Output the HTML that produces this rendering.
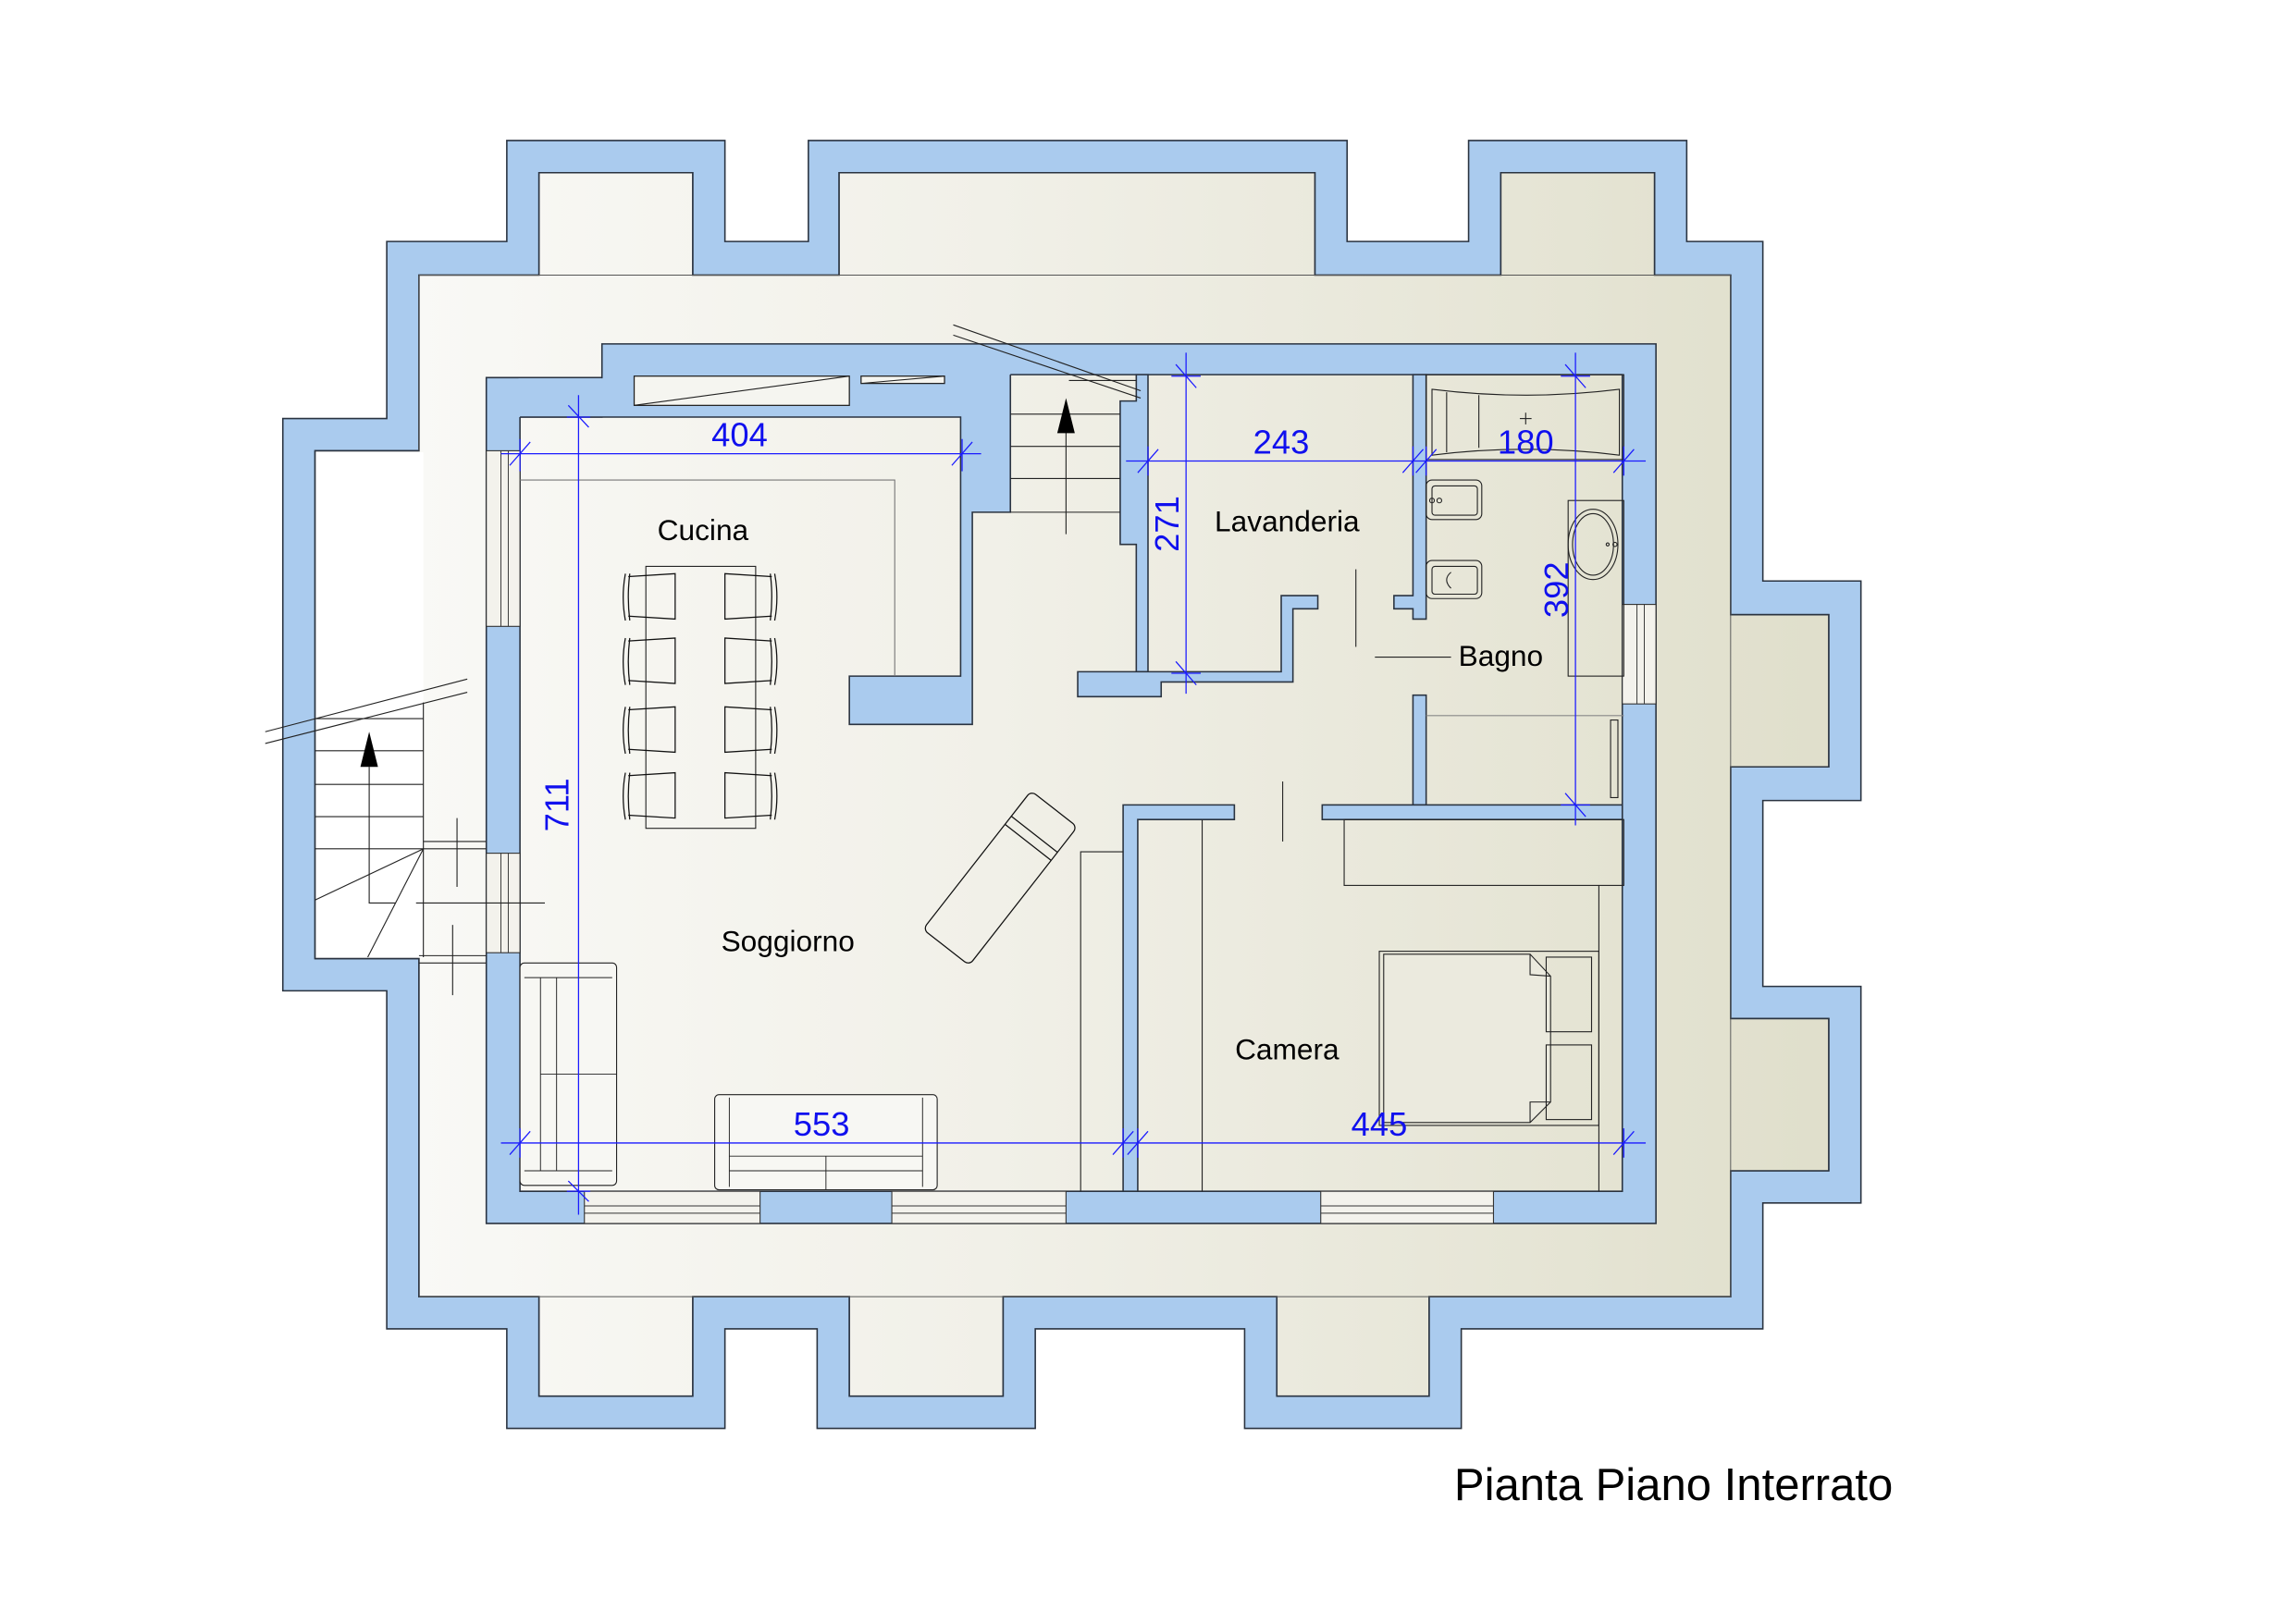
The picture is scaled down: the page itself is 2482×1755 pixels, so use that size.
<!DOCTYPE html>
<html><head><meta charset="utf-8"><style>
html,body{margin:0;padding:0;background:#fff;}
svg{display:block;}
text{font-family:"Liberation Sans",Arial,sans-serif;}
</style></head><body>
<svg width="2482" height="1755" viewBox="0 0 1568 1109" xmlns="http://www.w3.org/2000/svg">
<defs>
<linearGradient id="bg" x1="193" y1="0" x2="1271" y2="0" gradientUnits="userSpaceOnUse">
<stop offset="0" stop-color="#fbfbf9"/><stop offset="0.45" stop-color="#f1f0e8"/><stop offset="1" stop-color="#dfdeca"/>
</linearGradient>
</defs>
<rect width="1568" height="1109" fill="#fff"/>
<path fill-rule="evenodd" fill="#aacbee" stroke="#2a3340" stroke-width="1"
d="M346,96 L495,96 L495,165 L552,165 L552,96 L920,96 L920,165 L1003,165 L1003,96 L1152,96 L1152,165 L1204,165 L1204,397 L1271,397 L1271,547 L1204,547 L1204,674 L1271,674 L1271,822 L1204,822 L1204,908 L998,908 L998,976 L850,976 L850,908 L707,908 L707,976 L558,976 L558,908 L495,908 L495,976 L346,976 L346,908 L264,908 L264,677 L193,677 L193,286 L264,286 L264,165 L346,165 Z
M368,118 L473,118 L473,188 L573,188 L573,118 L898,118 L898,188 L1025,188 L1025,118 L1130,118 L1130,188 L1182,188 L1182,420 L1249,420 L1249,524 L1182,524 L1182,696 L1249,696 L1249,800 L1182,800 L1182,886 L976,886 L976,954 L872,954 L872,886 L685,886 L685,954 L580,954 L580,886 L473,886 L473,954 L368,954 L368,886 L286,886 L286,655 L215,655 L215,308 L286,308 L286,188 L368,188 Z"/>
<path fill="url(#bg)" stroke="#2a3340" stroke-width="1"
d="M368,118 L473,118 L473,188 L573,188 L573,118 L898,118 L898,188 L1025,188 L1025,118 L1130,118 L1130,188 L1182,188 L1182,420 L1249,420 L1249,524 L1182,524 L1182,696 L1249,696 L1249,800 L1182,800 L1182,886 L976,886 L976,954 L872,954 L872,886 L685,886 L685,954 L580,954 L580,886 L473,886 L473,954 L368,954 L368,886 L286,886 L286,655 L215,655 L215,308 L286,308 L286,188 L368,188 Z"/>
<g stroke="#555" stroke-width="0.6" fill="none">
<line x1="286" y1="188" x2="1182" y2="188"/><line x1="286" y1="886" x2="1182" y2="886"/>
<line x1="1182" y1="188" x2="1182" y2="886"/><line x1="286" y1="188" x2="286" y2="308"/>
</g>
<rect x="216" y="309" width="73" height="345" fill="#fff"/>
<path fill-rule="evenodd" fill="#aacbee" stroke="#2a3340" stroke-width="1"
d="M332,258 L411,258 L411,235 L1131,235 L1131,836 L332,836 Z M355,285 L411,285 L411,256 L1108,256 L1108,814 L355,814 Z"/>
<path fill="#aacbee" stroke="none" d="M354,258.5 L411.5,258.5 L411.5,255 L690,255 L690,350 L664,350 L664,495 L580,495 L580,462 L656,462 L656,285 L354,285 Z"/>
<polyline fill="none" stroke="#2a3340" stroke-width="1" points="355,285 656,285 656,462 580,462 580,495 664,495 664,350 690,350 690,256"/>
<g fill="#aacbee" stroke="#2a3340" stroke-width="1">
<path d="M765,274 L776,274 L776,256 L784,256 L784,459 L776,459 L776,372 L765,372 Z"/>
<path d="M736,459 L875,459 L875,407 L900,407 L900,416 L883,416 L883,466 L793,466 L793,476 L736,476 Z"/>
<path d="M965,256 L974,256 L974,423 L965,423 L965,416 L952,416 L952,407 L965,407 Z"/>
<rect x="965" y="475" width="9" height="75"/>
<path d="M767,814 L767,550 L843,550 L843,560 L777,560 L777,814 Z"/>
<rect x="903" y="550" width="205" height="10"/>
</g>
<g fill="#f3f2ec" stroke="#333" stroke-width="0.7">
<rect x="332" y="308" width="23" height="120"/>
<rect x="332" y="583" width="23" height="68"/>
<rect x="399" y="814" width="120" height="22"/>
<rect x="609" y="814" width="119" height="22"/>
<rect x="902" y="814" width="118" height="22"/>
<rect x="1108" y="413" width="23" height="68"/>
</g>
<g stroke="#333" stroke-width="0.6">
<line x1="342" y1="308" x2="342" y2="428"/><line x1="347" y1="308" x2="347" y2="428"/>
<line x1="342" y1="583" x2="342" y2="651"/><line x1="347" y1="583" x2="347" y2="651"/>
<line x1="399" y1="824" x2="519" y2="824"/><line x1="399" y1="829" x2="519" y2="829"/>
<line x1="609" y1="824" x2="728" y2="824"/><line x1="609" y1="829" x2="728" y2="829"/>
<line x1="902" y1="824" x2="1020" y2="824"/><line x1="902" y1="829" x2="1020" y2="829"/>
<line x1="1118" y1="413" x2="1118" y2="481"/><line x1="1123" y1="413" x2="1123" y2="481"/>
</g>
<g fill="#f5f5f0" stroke="#222" stroke-width="0.8">
<rect x="433" y="257" width="147" height="20"/>
<rect x="588" y="257" width="57" height="5"/>
</g>
<g stroke="#222" stroke-width="0.7" fill="none">
<line x1="433" y1="277" x2="580" y2="257"/><line x1="588" y1="262" x2="645" y2="257"/>
<polyline points="355,328 611,328 611,462" stroke="#777"/>
<rect x="441" y="387" width="75" height="179"/>
</g>
<g stroke="#111" stroke-width="0.8" fill="none">
<g id="chL"><path d="M429,394 L461,392 L461,423 L429,421"/><path d="M427,392 Q424,408 427,424 M430,392 Q428,408 430,424"/></g>
<use href="#chL" y="44"/><use href="#chL" y="91"/><use href="#chL" y="136"/>
<g id="chR"><path d="M527,394 L495,392 L495,423 L527,421"/><path d="M529,392 Q532,408 529,424 M526,392 Q528,408 526,424"/></g>
<use href="#chR" y="44"/><use href="#chR" y="91"/><use href="#chR" y="136"/>
</g>
<g stroke="#222" stroke-width="0.7" fill="none">
<line x1="651" y1="222" x2="779" y2="267"/><line x1="651" y1="229" x2="779" y2="272"/>
<line x1="690" y1="283" x2="765" y2="283"/><line x1="690" y1="305" x2="765" y2="305"/>
<line x1="690" y1="327" x2="765" y2="327"/><line x1="730" y1="260" x2="776" y2="260"/>
<line x1="690" y1="350" x2="765" y2="350"/>
<line x1="728" y1="292" x2="728" y2="365"/>
</g>
<polygon points="728,272 722,296 734,296" fill="#000"/>
<g stroke="#222" stroke-width="0.7" fill="none">
<line x1="181" y1="500" x2="319" y2="464"/><line x1="181" y1="508" x2="319" y2="473"/>
<line x1="215" y1="491" x2="289" y2="491"/>
<line x1="215" y1="513" x2="289" y2="513"/><line x1="215" y1="536" x2="289" y2="536"/>
<line x1="215" y1="558" x2="289" y2="558"/><line x1="215" y1="580" x2="289" y2="580"/>
<line x1="289" y1="480" x2="289" y2="654"/>
<line x1="289" y1="580" x2="215" y2="615"/><line x1="289" y1="580" x2="251" y2="654"/>
<polyline points="252,524 252,617 270,617"/><line x1="284" y1="617" x2="372" y2="617"/>
<line x1="289" y1="575" x2="332" y2="575"/><line x1="289" y1="580" x2="332" y2="580"/>
<line x1="286" y1="653" x2="332" y2="653"/><line x1="286" y1="658" x2="332" y2="658"/>
<line x1="312" y1="559" x2="312" y2="606"/><line x1="309" y1="632" x2="309" y2="680"/>
</g>
<polygon points="252,500 246,524 258,524" fill="#000"/>
<g stroke="#222" stroke-width="0.7" fill="#f7f7f3">
<rect x="355" y="658" width="66" height="152" rx="3"/>
<rect x="488" y="748" width="152" height="65" rx="3"/>
</g>
<g stroke="#222" stroke-width="0.6" fill="none">
<line x1="358" y1="668" x2="418" y2="668"/><line x1="358" y1="800" x2="418" y2="800"/>
<line x1="369" y1="668" x2="369" y2="800"/><line x1="380" y1="668" x2="380" y2="800"/>
<line x1="369" y1="734" x2="421" y2="734"/>
<line x1="498" y1="750" x2="498" y2="811"/><line x1="630" y1="750" x2="630" y2="811"/>
<line x1="498" y1="790" x2="630" y2="790"/><line x1="498" y1="800" x2="630" y2="800"/>
<line x1="564" y1="790" x2="564" y2="813"/>
</g>
<g transform="translate(683,600) rotate(38)" stroke="#111" stroke-width="0.8" fill="none">
<rect x="-20" y="-60" width="40" height="120" rx="4"/>
<line x1="-20" y1="-38" x2="20" y2="-38"/><line x1="-20" y1="-31" x2="20" y2="-31"/>
</g>
<g stroke="#222" stroke-width="0.7" fill="none">
<line x1="926" y1="389" x2="926" y2="442"/>
<line x1="939" y1="449" x2="991" y2="449"/>
<line x1="876" y1="534" x2="876" y2="575"/>
</g>
<g stroke="#222" stroke-width="0.7" fill="none">
<rect x="974" y="256" width="135" height="58"/>
<path d="M978,266 Q1042,274 1106,266 L1106,311 Q1042,303 978,311 Z"/>
<line x1="988" y1="268" x2="988" y2="309"/><line x1="1010" y1="270" x2="1010" y2="306"/>
<line x1="1038" y1="286" x2="1046" y2="286"/><line x1="1042" y1="282" x2="1042" y2="290"/>
<rect x="974" y="328" width="38" height="27" rx="4"/><rect x="978" y="332" width="31" height="20" rx="2"/>
<circle cx="978" cy="342" r="1.6"/><circle cx="983" cy="342" r="1.6"/>
<rect x="974" y="383" width="38" height="26" rx="4"/><rect x="978" y="387" width="31" height="19" rx="2"/>
<path d="M991,391 Q985,396 991,402"/>
<rect x="1071" y="342" width="38" height="120"/>
<ellipse cx="1088" cy="372" rx="17" ry="24"/><ellipse cx="1088" cy="372" rx="14" ry="21"/>
<circle cx="1098" cy="372" r="1"/><circle cx="1103" cy="372" r="1.4"/>
<line x1="974" y1="489" x2="1109" y2="489" stroke="#888"/>
<rect x="1100" y="492" width="5" height="53"/>
</g>
<g stroke="#222" stroke-width="0.7" fill="none">
<line x1="821" y1="560" x2="821" y2="814"/>
<polyline points="738,814 738,582 767,582"/>
<rect x="918" y="560" width="191" height="45"/>
<line x1="1092" y1="605" x2="1092" y2="814"/>
<rect x="942" y="650" width="150" height="119"/>
<path d="M945,652 L1045,652 L1059,667 L1059,753 L1045,767 L945,767 Z" fill="#ebeade"/>
<path d="M1045,652 L1045,666 L1059,667 M1045,767 L1045,753 L1059,753"/>
<rect x="1056" y="654" width="31" height="51"/><rect x="1056" y="714" width="31" height="51"/>
</g>
<g stroke="#1a1aff" stroke-width="0.8" fill="none">
<line x1="342" y1="310" x2="670" y2="310"/>
<line x1="355" y1="300" x2="355" y2="322"/><line x1="657" y1="300" x2="657" y2="322"/>
<line x1="348" y1="318" x2="362" y2="302"/><line x1="650" y1="318" x2="664" y2="302"/>
<line x1="395" y1="270" x2="395" y2="830"/>
<line x1="387" y1="285" x2="403" y2="285"/><line x1="387" y1="814" x2="403" y2="814"/>
<line x1="388" y1="277" x2="402" y2="292"/><line x1="388" y1="807" x2="402" y2="821"/>
<line x1="769" y1="315" x2="1124" y2="315"/>
<line x1="784" y1="305" x2="784" y2="325"/><line x1="965" y1="305" x2="965" y2="325"/><line x1="974" y1="305" x2="974" y2="325"/><line x1="1109" y1="305" x2="1109" y2="325"/>
<line x1="777" y1="323" x2="791" y2="307"/><line x1="958" y1="323" x2="972" y2="307"/><line x1="967" y1="323" x2="981" y2="307"/><line x1="1102" y1="323" x2="1116" y2="307"/>
<line x1="810" y1="241" x2="810" y2="474"/>
<line x1="800" y1="257" x2="820" y2="257"/><line x1="800" y1="460" x2="820" y2="460"/>
<line x1="803" y1="249" x2="817" y2="265"/><line x1="803" y1="452" x2="817" y2="468"/>
<line x1="1076" y1="241" x2="1076" y2="564"/>
<line x1="1066" y1="257" x2="1086" y2="257"/><line x1="1066" y1="550" x2="1086" y2="550"/>
<line x1="1069" y1="249" x2="1083" y2="265"/><line x1="1069" y1="542" x2="1083" y2="558"/>
<line x1="342" y1="781" x2="1124" y2="781"/>
<line x1="355" y1="771" x2="355" y2="791"/><line x1="767" y1="771" x2="767" y2="791"/><line x1="777" y1="771" x2="777" y2="791"/><line x1="1109" y1="771" x2="1109" y2="791"/>
<line x1="348" y1="789" x2="362" y2="773"/><line x1="760" y1="789" x2="774" y2="773"/><line x1="770" y1="789" x2="784" y2="773"/><line x1="1102" y1="789" x2="1116" y2="773"/>
</g>
<g fill="#1010ee" font-size="23" text-anchor="middle">
<text x="505" y="305">404</text>
<text x="875" y="310">243</text>
<text x="1042" y="310">180</text>
<text x="561" y="776">553</text>
<text x="942" y="776">445</text>
<text transform="translate(388,550) rotate(-90)">711</text>
<text transform="translate(805,358) rotate(-90)">271</text>
<text transform="translate(1071,403) rotate(-90)">392</text>
</g>
<g fill="#000" font-size="20" text-anchor="middle">
<text x="480" y="369">Cucina</text>
<text x="879" y="363">Lavanderia</text>
<text x="1025" y="455">Bagno</text>
<text x="538" y="650">Soggiorno</text>
<text x="879" y="724">Camera</text>
</g>
<text x="1143" y="1025" font-size="31" text-anchor="middle" fill="#000">Pianta Piano Interrato</text>
</svg>
</body></html>
